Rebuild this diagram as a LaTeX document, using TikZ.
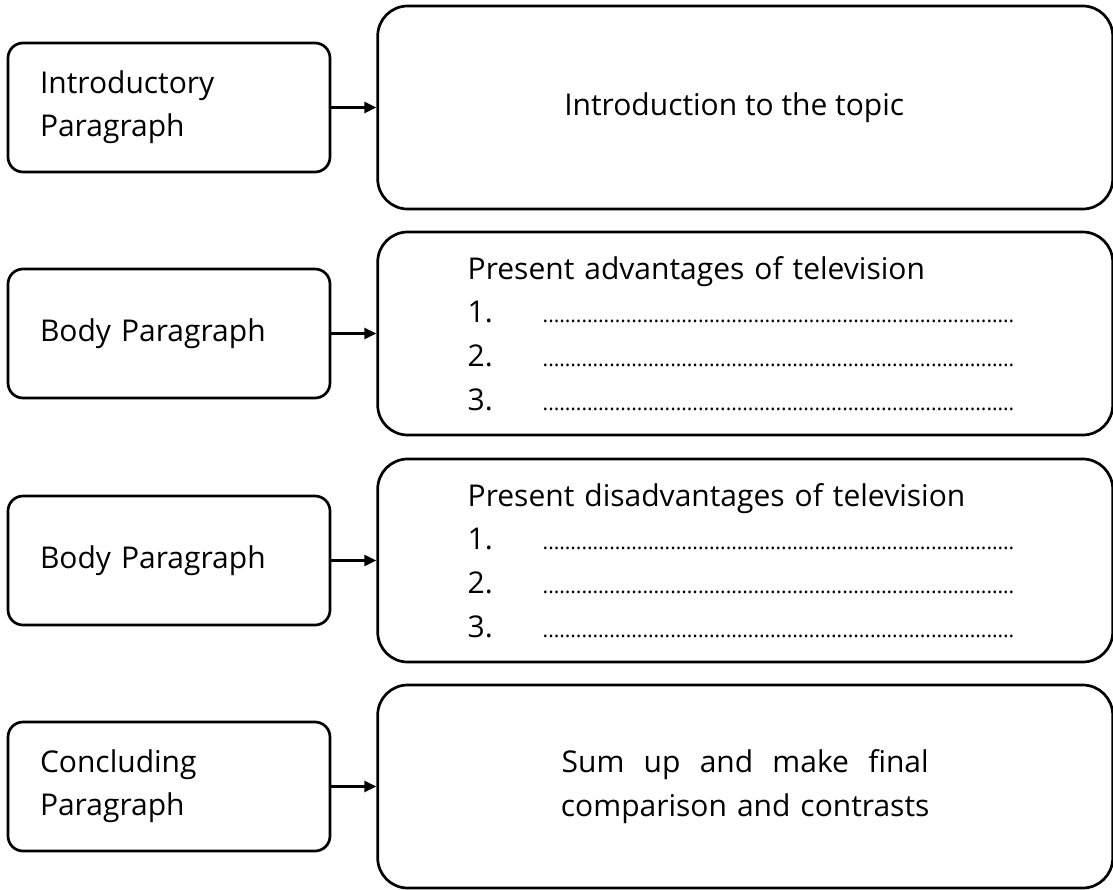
\documentclass[tikz,border=0pt]{standalone}
\usepackage{fontspec}
\setmainfont{Open Sans}
\usetikzlibrary{positioning}
\usetikzlibrary{arrows.meta}

\newcommand{\dotrow}{\makebox[472pt][l]{\leaders\hbox to 5.55pt{\hss{\fontsize{21}{21}\selectfont.}\hss}\hfill}}
\newcommand{\numrow}[1]{\makebox[75pt][l]{#1}\dotrow}

\begin{document}
\begin{tikzpicture}[x=1pt,y=-1pt,font=\fontsize{30}{43.3}\selectfont,
  para/.style={draw,line width=2.7pt,rounded corners=15pt,minimum width=322pt,minimum height=129pt,text width=258pt,inner xsep=32pt,align=left},
  plan/.style={draw,line width=2.7pt,rounded corners=30pt,minimum width=735pt,minimum height=203pt},
  link/.style={line width=2.5pt,-{Triangle[length=12pt,width=11pt]}}]
 \useasboundingbox (0,0) rectangle (1113,889);
 % left column
 \node[para] (intro) at (169,107.5) {Introductory\\Paragraph};
 \node[para] (body1) at (169,333.5) {Body Paragraph};
 \node[para] (body2) at (169,560.5) {Body Paragraph};
 \node[para] (concl) at (169,786.5) {Concluding\\Paragraph};
 % right column
 \node[plan,right=45pt of intro] (topic) {Introduction to the topic\hspace*{22pt}};
 \node[plan,right=45pt of body1,text width=555pt,inner xsep=90pt,align=left,font=\fontsize{30}{43.8}\selectfont] (pros)
   {Present advantages of television\\ \numrow{1.}\\ \numrow{2.}\\ \numrow{3.}};
 \node[plan,right=45pt of body2,text width=555pt,inner xsep=90pt,align=left,font=\fontsize{30}{43.8}\selectfont] (cons)
   {Present disadvantages of television\\ \numrow{1.}\\ \numrow{2.}\\ \numrow{3.}};
 \node[plan,right=45pt of concl,text width=372pt,align=center] (sumup)
   {\hbox to 367pt{Sum\hfil up\hfil and\hfil make\hfil final}\\\mbox{comparison and contrasts}};
 % arrows
 \draw[link] (intro.east) -- (intro.east -| topic.west);
 \draw[link] (body1.east) -- (body1.east -| pros.west);
 \draw[link] (body2.east) -- (body2.east -| cons.west);
 \draw[link] (concl.east) -- (concl.east -| sumup.west);
\end{tikzpicture}
\end{document}
